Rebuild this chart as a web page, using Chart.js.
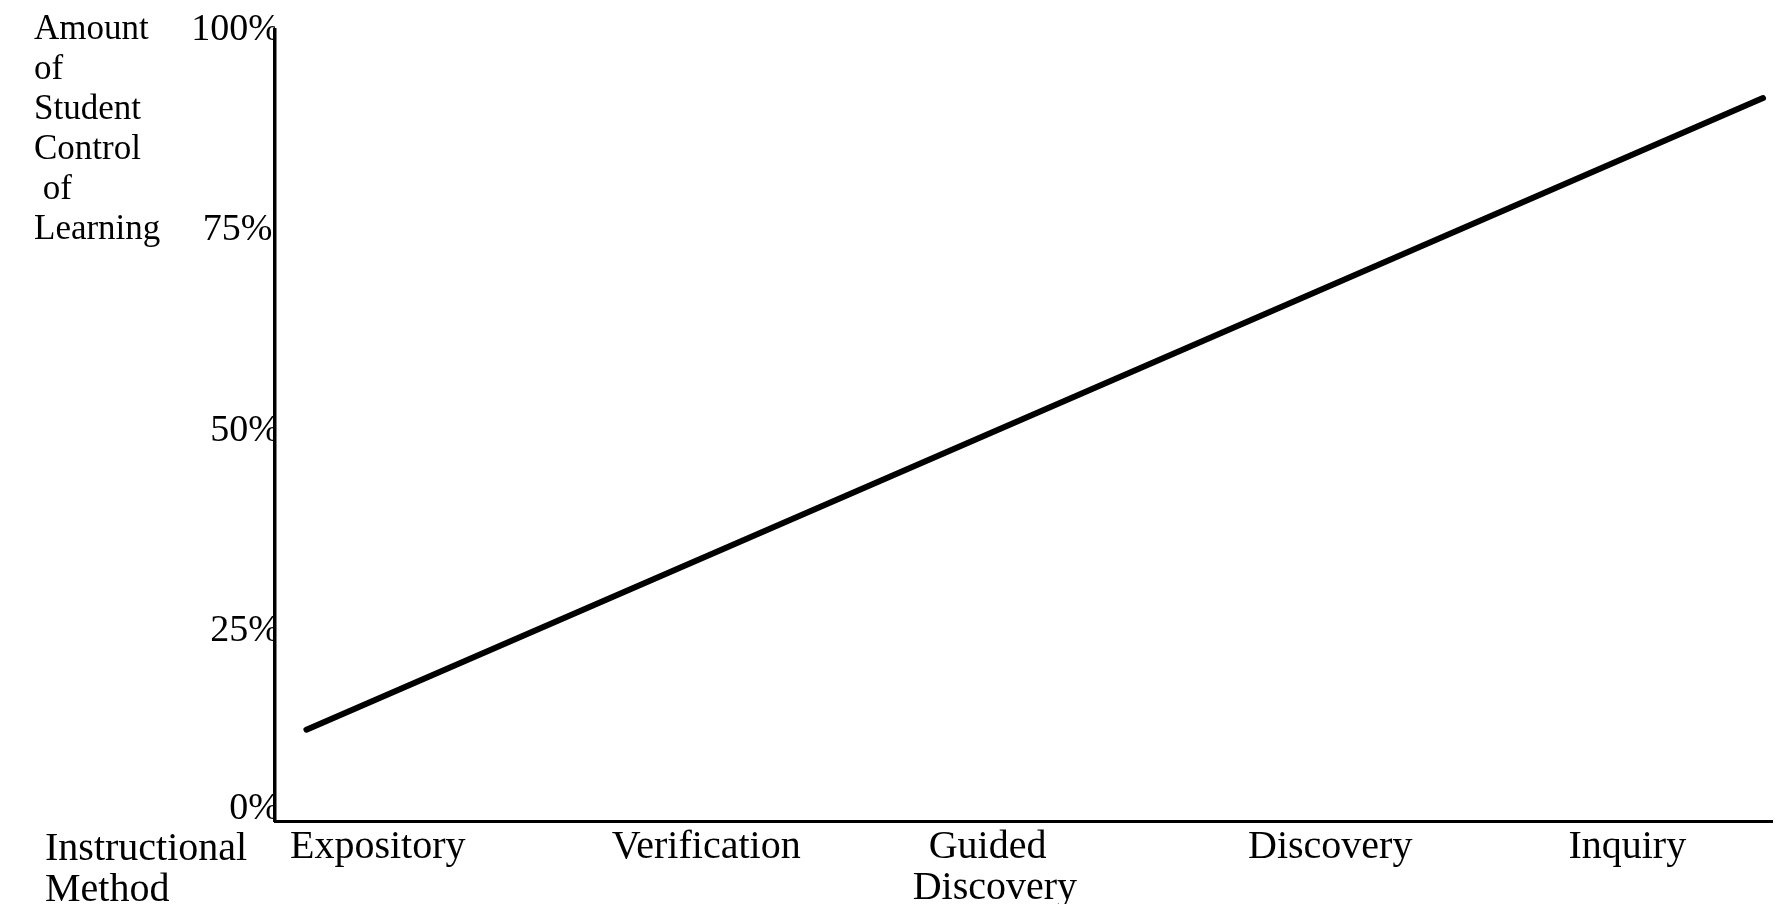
<!DOCTYPE html>
<html>
<head>
<meta charset="utf-8">
<title>Student control of learning by instructional method</title>
<script src="https://cdn.jsdelivr.net/npm/chart.js@4.4.1/dist/chart.umd.min.js"></script>
<style>
  html, body { margin: 0; padding: 0; background: #fff; }
  #wrap { position: relative; width: 1776px; height: 904px; }
  .ttl { position: absolute; font-family: 'Liberation Serif', 'Times New Roman', serif; color: #000; white-space: pre; }
</style>
</head>
<body>
<div id="wrap">
  <canvas id="chart" width="1776" height="904"></canvas>
  <div class="ttl" style="left:34px; top:8px; font-size:35px; line-height:40px;">Amount
of
Student
Control
 of
Learning</div>
  <div class="ttl" style="left:45px; top:826px; font-size:40px; line-height:41px;">Instructional
Method</div>
</div>
<script>
// values
const methods = ['Expository', 'Verification', ['\u2009\u2009Guided', 'Discovery'], 'Discovery', 'Inquiry'];
const methodTicks = [1, 22.5, 42.6, 65, 86.4];
const controlTicks = [0, 25, 50, 75, 100];
const lineX = [2.1, 99.4];
const lineY = [12.7, 91.5];

const serif = "'Liberation Serif', 'Times New Roman', serif";
Chart.defaults.font.family = serif;
Chart.defaults.color = '#000';

new Chart(document.getElementById('chart'), {
  type: 'line',
  data: {
    datasets: [{
      data: lineX.map((x, i) => ({ x, y: lineY[i] })),
      borderColor: '#000',
      borderWidth: 6,
      borderCapStyle: 'round',
      pointRadius: 0,
      tension: 0,
      fill: false,
      clip: false
    }]
  },
  options: {
    responsive: false,
    animation: false,
    layout: { padding: { top: 30, right: 4, left: 0, bottom: 0 } },
    plugins: { legend: { display: false }, tooltip: { enabled: false } },
    scales: {
      x: {
        type: 'linear', min: 0, max: 100,
        afterBuildTicks: s => { s.ticks = methodTicks.map(v => ({ value: v })); },
        afterFit: s => { s.height = 83; },
        grid: { display: false, drawTicks: false },
        border: { display: true, color: '#000', width: 3 },
        ticks: {
          padding: 6, align: 'start', autoSkip: false, maxRotation: 0, minRotation: 0,
          font: { family: serif, size: 40, lineHeight: '41px' },
          callback: (v, i) => methods[i]
        }
      },
      y: {
        // baseline of the drawing sits just above the 0% mark
        type: 'linear', min: 1.3, max: 100,
        afterBuildTicks: s => { s.ticks = controlTicks.map(v => ({ value: v })); },
        afterFit: s => { s.width = 275; },
        grid: { display: false, drawTicks: false },
        border: { display: true, color: '#000', width: 3.5 },
        ticks: {
          padding: -5, autoSkip: false,
          font: c => ({ family: serif, size: 38, lineHeight: (c.tick && c.tick.value === 0) ? '44px' : '40px' }),
          callback: v => v === 0 ? ['0%', ''] : v === 75 ? '75%\u2009' : v + '%'
        }
      }
    }
  }
});
</script>
</body>
</html>
